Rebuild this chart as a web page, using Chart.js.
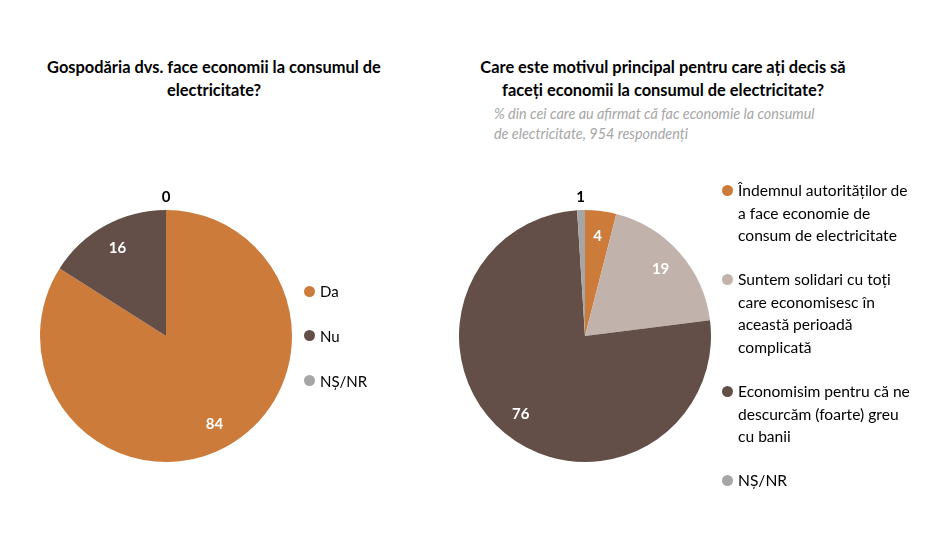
<!DOCTYPE html>
<html>
<head>
<meta charset="utf-8">
<script src="https://cdn.jsdelivr.net/npm/chart.js@4.4.1/dist/chart.umd.min.js"></script>
<style>
  body { margin: 0; background: #fff; font-family: "Lato", "Open Sans", sans-serif; }
  #page { position: relative; width: 928px; height: 548px; overflow: hidden; }
  .title { position: absolute; font-weight: bold; font-size: 16.4px; line-height: 23px; color: #000; text-align: center; }
  .sub { position: absolute; font-style: italic; font-size: 14.4px; line-height: 20px; color: #a6a6a6; }
  .box { position: absolute; width: 312px; height: 312px; }
  .legend { position: absolute; font-size: 15px; line-height: 22.6px; color: #000; }
  .legend .item { position: relative; padding-left: 16px; }
  .legend .dot { position: absolute; left: 0; top: 5.5px; width: 11px; height: 11px; border-radius: 50%; }
</style>
</head>
<body>
<div id="page">
  <div class="title" style="left:14px; top:55px; width:400px;">Gospodăria dvs. face economii la consumul de<br>electricitate?</div>
  <div class="title" style="left:463px; top:55px; width:400px;">Care este motivul principal pentru care ați decis să<br>faceți economii la consumul de electricitate?</div>
  <div class="sub" style="left:494px; top:104px;">% din cei care au afirmat că fac economie la consumul<br>de electricitate, 954 respondenți</div>

  <div class="box" style="left:10px; top:180px;"><canvas id="pieLeft"></canvas></div>
  <div class="box" style="left:429px; top:180px;"><canvas id="pieRight"></canvas></div>

  <div class="legend" id="legendLeft" style="left:304px; top:280px;"></div>
  <div class="legend" id="legendRight" style="left:722px; top:179px; font-size:15.6px;"></div>
</div>

<script>
/* ---------- data ---------- */
const leftLabels = ["Da", "Nu", "NȘ/NR"];
const leftValues = [84, 16, 0];
const leftColors = ["#cd7b3a", "#634f47", "#a6a6a6"];

const rightLabels = [
  ["Îndemnul autorităților de", "a face economie de", "consum de electricitate"],
  ["Suntem solidari cu toți", "care economisesc în", "această perioadă", "complicată"],
  ["Economisim pentru că ne", "descurcăm (foarte) greu", "cu banii"],
  ["NȘ/NR"]
];
const rightValues = [4, 19, 76, 1];
const rightColors = ["#cd7b3a", "#c1b3ab", "#634f47", "#a6a6a6"];

/* ---------- value labels on slices ---------- */
const sliceLabels = {
  id: "sliceLabels",
  afterDatasetsDraw(chart) {
    const ctx = chart.ctx;
    const meta = chart.getDatasetMeta(0);
    const values = chart.data.datasets[0].data;
    ctx.save();
    ctx.font = "bold 15px Lato, sans-serif";
    ctx.textAlign = "center";
    ctx.textBaseline = "middle";
    meta.data.forEach((arc, i) => {
      const v = values[i];
      const mid = (arc.startAngle + arc.endAngle) / 2;
      const small = v <= 2;
      const r = small ? arc.outerRadius + 13 : arc.outerRadius * 0.8;
      const x = arc.x + Math.cos(mid) * r;
      const y = arc.y + Math.sin(mid) * r;
      ctx.fillStyle = small ? "#000" : "#fff";
      ctx.fillText(String(v), x, y);
    });
    ctx.restore();
  }
};

function makePie(id, labels, values, colors) {
  return new Chart(document.getElementById(id), {
    type: "pie",
    data: {
      labels: labels,
      datasets: [{
        data: values,
        backgroundColor: colors,
        borderWidth: 0
      }]
    },
    options: {
      responsive: true,
      maintainAspectRatio: false,
      animation: false,
      layout: { padding: 30 },
      plugins: {
        legend: { display: false },
        tooltip: { enabled: false }
      }
    },
    plugins: [sliceLabels]
  });
}

function makeLegend(id, labels, colors, gap) {
  const el = document.getElementById(id);
  labels.forEach((lab, i) => {
    const lines = Array.isArray(lab) ? lab : [lab];
    const item = document.createElement("div");
    item.className = "item";
    item.style.marginBottom = gap + "px";
    item.innerHTML = `<span class="dot" style="background:${colors[i]}"></span>${lines.join("<br>")}`;
    el.appendChild(item);
  });
}

makePie("pieLeft", leftLabels, leftValues, leftColors);
makePie("pieRight", rightLabels, rightValues, rightColors);
makeLegend("legendLeft", leftLabels, leftColors, 22.4);
makeLegend("legendRight", rightLabels, rightColors, 21.5);
</script>
</body>
</html>
